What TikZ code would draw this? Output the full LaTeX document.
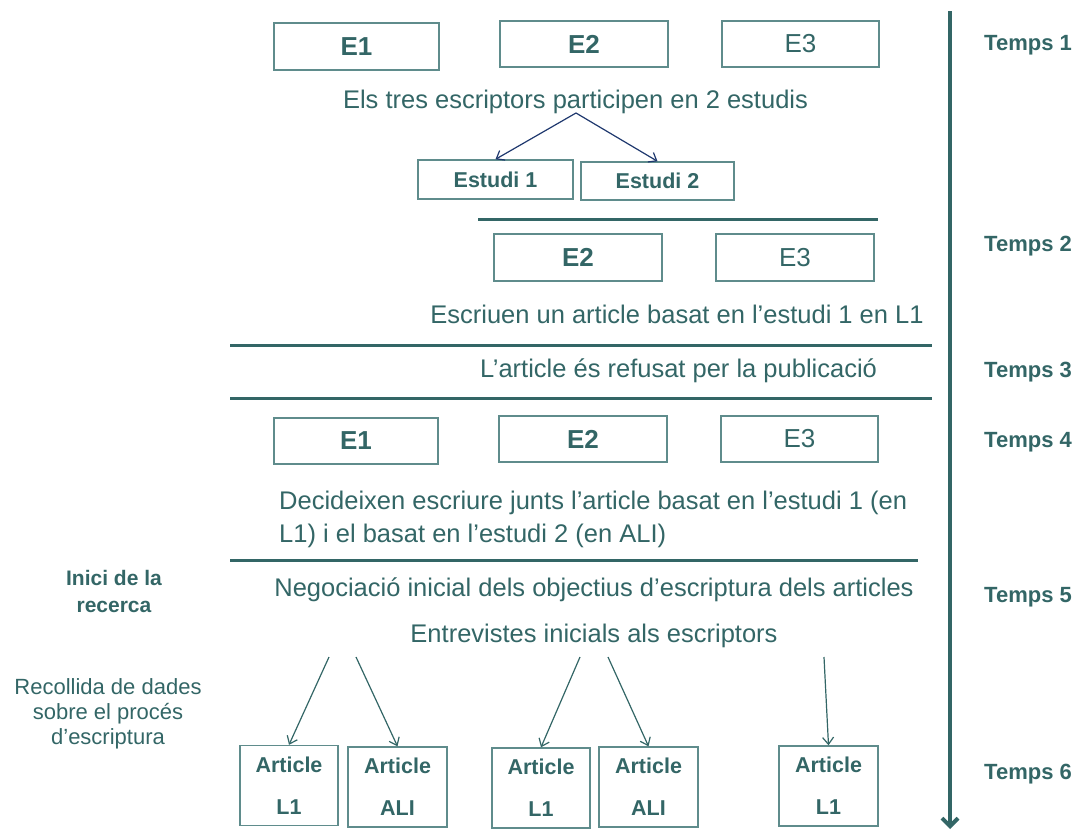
\documentclass[tikz,border=0pt]{standalone}
\usepackage{fontspec}
\setmainfont{Liberation Sans}
\usetikzlibrary{arrows.meta}
\definecolor{teal1}{RGB}{51,102,102}
\definecolor{boxline}{RGB}{95,140,140}
\definecolor{navyarr}{RGB}{31,56,110}
\newcommand{\fsz}[2]{\fontsize{#1}{#2}\selectfont}

\begin{document}
\begin{tikzpicture}[x=1pt,y=-1pt,
  every node/.style={text=teal1, inner sep=0pt},
  actor/.style={draw=boxline, line width=1.4pt, minimum height=46pt, font=\fsz{26}{30}},
  actorb/.style={actor, font=\bfseries\fsz{26}{30}},
  study/.style={draw=boxline, line width=1.4pt, minimum height=39pt, minimum width=155pt, font=\bfseries\fsz{21.5}{24}},
  artbox/.style={draw=boxline, line width=1.4pt, minimum width=98pt, minimum height=80pt, align=center, font=\bfseries\fsz{21.5}{42}},
  caption/.style={font=\fsz{25.5}{33}},
  timelabel/.style={anchor=west, font=\bfseries\fsz{22}{24}},
  rule/.style={draw=teal1, line width=3pt},
  flow/.style={draw=teal1, line width=1.2pt, -{Straight Barb[length=7pt,width=11pt]}},
  split/.style={draw=navyarr, line width=1.2pt, -{Straight Barb[length=7pt,width=11pt]}},
]
\useasboundingbox (0,0) rectangle (1079,830);

% time axis
\coordinate (axtop) at (950,11);
\coordinate (axbot) at (950,829);
\draw[teal1, line width=4pt, -{Straight Barb[length=8pt,width=16pt]}] (axtop) -- (axbot);

\node[timelabel] (T1) at (984,45) {Temps 1};
\node[timelabel] (T2) at (984,246) {Temps 2};
\node[timelabel] (T3) at (984,372) {Temps 3};
\node[timelabel] (T4) at (984,442) {Temps 4};
\node[timelabel] (T5) at (984,597) {Temps 5};
\node[timelabel] (T6) at (984,774) {Temps 6};

% time 1
\node[actorb, minimum width=165pt, minimum height=47pt] (aE1) at (356.5,46.5) {E1};
\node[actorb, minimum width=168pt] (aE2) at (584,44) {E2};
\node[actor, minimum width=157pt] (aE3) at (800.5,44) {E3};
\node[caption, anchor=base] (t1) at (575.5,108) {Els tres escriptors participen en 2 estudis};
\coordinate (fork) at (576,113);
\node[study] (s1) at (495.5,179.5) {Estudi 1};
\node[study, minimum width=153pt, minimum height=38pt] (s2) at (657.5,181) {Estudi 2};
\draw[split] (fork) -- (s1.north);
\draw[split] (fork) -- (s2.north);
\coordinate (r1a) at (478,219);
\coordinate (r1b) at (878,219);
\draw[rule] (r1a) -- (r1b);

% time 2
\node[actorb, minimum width=168pt, minimum height=47pt] (bE2) at (578,257.5) {E2};
\node[actor, minimum width=158pt, minimum height=47pt] (bE3) at (795,257.5) {E3};
\node[caption, anchor=base] (t2) at (677,323) {Escriuen un article basat en l’estudi 1 en L1};
\coordinate (r2a) at (230,345);
\coordinate (r2b) at (932,345);
\draw[rule] (r2a) -- (r2b);

% time 3
\node[caption, anchor=base] (t3) at (678.5,377) {L’article és refusat per la publicació};
\coordinate (r3a) at (230,398);
\coordinate (r3b) at (932,398);
\draw[rule] (r3a) -- (r3b);

% time 4
\node[actorb, minimum width=164pt, minimum height=46pt] (cE1) at (356,441) {E1};
\node[actorb, minimum width=168pt] (cE2) at (583,439) {E2};
\node[actor, minimum width=157pt] (cE3) at (799.5,439) {E3};
\node[caption, anchor=west, align=left] (t4) at (279,519)
  {Decideixen escriure junts l’article basat en l’estudi 1 (en\\L1) i el basat en l’estudi 2 (en ALI)};
\coordinate (r4a) at (230,560);
\coordinate (r4b) at (918,560);
\draw[rule] (r4a) -- (r4b);

% time 5
\node[caption, anchor=base] (t5) at (594,596) {Negociació inicial dels objectius d’escriptura dels articles};
\node[caption, anchor=base] (t6) at (594,642) {Entrevistes inicials als escriptors};
\node[align=center, font=\bfseries\fsz{21}{27}] (start) at (114,591) {Inici de la\\recerca};
\node[align=center, font=\fsz{22}{25}] (collect) at (108,714) {Recollida de dades\\sobre el procés\\d’escriptura};

% time 6
\node[artbox] (p1) at (289,785.5) {Article\\L1};
\node[artbox, minimum width=99pt] (p2) at (397.5,787) {Article\\ALI};
\node[artbox] (p3) at (541,788) {Article\\L1};
\node[artbox, minimum width=99pt] (p4) at (648.5,787) {Article\\ALI};
\node[artbox, minimum width=99pt] (p5) at (828.5,786) {Article\\L1};
\coordinate (o1) at (329,657);
\coordinate (o2) at (356,657);
\coordinate (o3) at (580,657);
\coordinate (o4) at (608,657);
\coordinate (o5) at (824,657);
\draw[flow] (o1) -- (p1.north);
\draw[flow] (o2) -- (p2.north);
\draw[flow] (o3) -- (p3.north);
\draw[flow] (o4) -- (p4.north);
\draw[flow] (o5) -- (p5.north);
\end{tikzpicture}
\end{document}
